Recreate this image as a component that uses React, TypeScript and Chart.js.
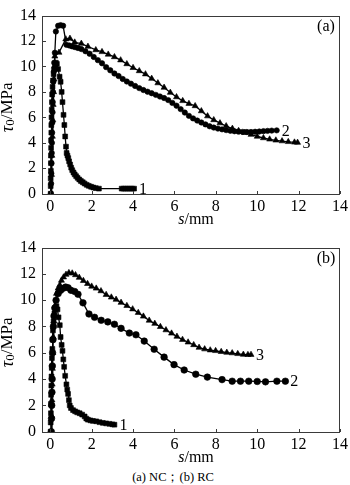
import React, { useEffect, useRef } from 'react';
import { Chart, registerables } from 'chart.js';
Chart.register(...registerables);

type P = [number, number];

const xTickValues = [0, 2, 4, 6, 8, 10, 12, 14];
const yTickValues = [0, 2, 4, 6, 8, 10, 12, 14];
const seriesNames = ['1', '2', '3'];
const panelNames = ['(a)', '(b)'];
const caption = '(a) NC；(b) RC';

// (a) NC — curve 1 (squares)
const nc1: P[] = [
  [0.02, 0], [0.02, 0.6], [0.02, 1.2], [0.03, 1.8], [0.03, 2.4], [0.03, 3.0], [0.04, 3.6], [0.04, 4.2],
  [0.05, 4.8], [0.05, 5.4], [0.06, 6.0], [0.07, 6.6], [0.08, 7.2], [0.09, 7.8], [0.11, 8.4], [0.13, 8.9],
  [0.16, 9.4], [0.19, 9.8], [0.23, 10.1], [0.27, 10.3], [0.32, 10.2], [0.38, 9.8], [0.45, 9.2], [0.5, 8.8],
  [0.55, 8.0], [0.59, 7.2], [0.64, 6.2], [0.68, 5.4], [0.72, 4.5], [0.76, 3.7], [0.79, 3.2], [0.83, 3.0],
  [0.87, 2.8], [0.91, 2.55], [0.96, 2.3], [1.01, 2.05], [1.06, 1.85], [1.12, 1.67], [1.18, 1.52], [1.25, 1.38],
  [1.32, 1.25], [1.4, 1.12], [1.48, 1.0], [1.57, 0.9], [1.66, 0.8], [1.76, 0.7], [1.86, 0.62], [1.97, 0.55],
  [2.08, 0.49], [2.2, 0.44], [2.35, 0.4], [3.45, 0.4], [3.55, 0.4], [3.65, 0.4], [3.75, 0.4], [3.85, 0.4],
  [3.95, 0.4], [4.05, 0.4],
];
// (a) NC — curve 2 (circles)
const nc2: P[] = [
  [0.03, 0], [0.04, 0.8], [0.05, 1.6], [0.06, 2.4], [0.07, 3.2], [0.08, 4.0], [0.09, 4.8], [0.1, 5.6],
  [0.11, 6.4], [0.12, 7.2], [0.13, 8.0], [0.15, 8.8], [0.17, 9.6], [0.19, 10.3], [0.22, 11.08], [0.27, 12.75],
  [0.38, 13.2], [0.5, 13.25], [0.62, 13.2], [0.78, 11.7], [0.92, 11.65], [1.06, 11.58], [1.2, 11.52],
  [1.34, 11.45], [1.5, 11.37], [1.7, 11.2], [1.9, 11.0], [2.1, 10.75], [2.3, 10.5], [2.5, 10.25],
  [2.7, 9.95], [2.9, 9.7], [3.1, 9.45], [3.3, 9.25], [3.5, 9.02], [3.7, 8.82], [3.9, 8.65], [4.1, 8.47],
  [4.3, 8.3], [4.5, 8.15], [4.7, 8.02], [4.9, 7.9], [5.1, 7.77], [5.3, 7.64], [5.5, 7.52], [5.7, 7.36],
  [5.9, 7.14], [6.1, 6.92], [6.3, 6.65], [6.5, 6.38], [6.7, 6.12], [6.9, 5.92], [7.1, 5.75], [7.3, 5.6],
  [7.5, 5.45], [7.7, 5.3], [7.9, 5.2], [8.1, 5.12], [8.3, 5.06], [8.5, 5.0], [8.7, 4.95], [8.9, 4.91],
  [9.1, 4.88], [9.3, 4.86], [9.5, 4.85], [9.7, 4.85], [9.9, 4.87], [10.1, 4.89], [10.3, 4.92],
  [10.5, 4.94], [10.7, 4.96], [10.94, 4.98],
];
// (a) NC — curve 3 (triangles)
const nc3: P[] = [
  [0.04, 0], [0.06, 1.5], [0.08, 3.0], [0.1, 4.5], [0.12, 5.8], [0.14, 7.0], [0.16, 8.0], [0.18, 9.0],
  [0.2, 10.0], [0.22, 10.8], [0.42, 11.1], [0.75, 12.15], [0.95, 12.2], [1.18, 11.9], [1.5, 11.8],
  [1.82, 11.57], [2.2, 11.3], [2.5, 11.15], [2.8, 10.95], [3.1, 10.75], [3.4, 10.5], [3.7, 10.2],
  [4.0, 9.9], [4.3, 9.65], [4.6, 9.4], [4.9, 9.05], [5.2, 8.7], [5.5, 8.35], [5.8, 7.95], [6.1, 7.6],
  [6.4, 7.3], [6.7, 7.08], [7.0, 6.9], [7.3, 6.5], [7.6, 6.1], [7.9, 5.8], [8.2, 5.55], [8.5, 5.32],
  [8.8, 5.12], [9.1, 4.95], [9.4, 4.8], [9.7, 4.65], [10.0, 4.5], [10.3, 4.38], [10.6, 4.28],
  [10.9, 4.2], [11.2, 4.14], [11.5, 4.08], [11.8, 4.04], [11.95, 4.02],
];

// (b) RC — curve 1 (squares)
const rc1: P[] = [
  [0.02, 0], [0.02, 0.7], [0.03, 1.4], [0.03, 2.1], [0.04, 2.8], [0.05, 3.5], [0.06, 4.2], [0.07, 4.9],
  [0.08, 5.6], [0.1, 6.3], [0.11, 7.0], [0.13, 7.7], [0.16, 8.4], [0.2, 9.0], [0.25, 9.4], [0.3, 9.55],
  [0.35, 9.3], [0.4, 8.7], [0.46, 8.1], [0.5, 7.2], [0.55, 6.6], [0.59, 6.15], [0.63, 5.5], [0.67, 4.93],
  [0.72, 4.25], [0.78, 3.6], [0.82, 3.2], [0.86, 2.87], [0.9, 2.4], [0.94, 2.0], [1.0, 1.8], [1.1, 1.64],
  [1.2, 1.55], [1.3, 1.47], [1.42, 1.4], [1.54, 1.3], [1.66, 1.16], [1.74, 1.0], [1.82, 0.91],
  [1.94, 0.86], [2.06, 0.82], [2.22, 0.79], [2.38, 0.72], [2.54, 0.67], [2.7, 0.63], [2.86, 0.6],
  [3.0, 0.56], [3.1, 0.53],
];
// (b) RC — curve 2 (circles)
const rc2: P[] = [
  [0.05, 0], [0.06, 1.0], [0.07, 2.0], [0.08, 3.0], [0.09, 4.0], [0.1, 5.0], [0.11, 6.0], [0.13, 7.0],
  [0.15, 8.0], [0.18, 8.8], [0.22, 9.4], [0.28, 10.0], [0.38, 10.5], [0.5, 10.75], [0.62, 10.9],
  [0.74, 11.0], [0.86, 10.95], [1.0, 10.75], [1.18, 10.66], [1.34, 10.45], [1.58, 9.8], [1.87, 8.95],
  [2.14, 8.7], [2.46, 8.47], [2.78, 8.35], [3.1, 8.17], [3.42, 7.86], [3.82, 7.5], [4.14, 7.37],
  [4.54, 6.89], [5.02, 6.27], [5.5, 5.67], [5.98, 5.1], [6.47, 4.69], [7.03, 4.37], [7.59, 4.15],
  [8.3, 3.96], [8.79, 3.84], [9.19, 3.84], [9.59, 3.84], [10.0, 3.82], [10.4, 3.79], [10.95, 3.84],
  [11.36, 3.84],
];
// (b) RC — curve 3 (triangles)
const rc3: P[] = [
  [0.06, 0], [0.07, 1.2], [0.08, 2.4], [0.09, 3.6], [0.1, 4.8], [0.12, 6.0], [0.14, 7.2], [0.17, 8.4],
  [0.22, 9.56], [0.3, 10.5], [0.38, 10.9], [0.46, 11.15], [0.54, 11.5], [0.64, 11.75], [0.76, 11.95],
  [0.9, 12.08], [1.06, 12.05], [1.22, 11.92], [1.4, 11.72], [1.6, 11.48], [1.8, 11.25], [2.0, 11.05],
  [2.22, 10.9], [2.45, 10.7], [2.7, 10.42], [2.95, 10.22], [3.18, 10.05], [3.42, 9.82], [3.7, 9.58],
  [3.98, 9.32], [4.25, 9.05], [4.5, 8.77], [4.78, 8.46], [5.05, 8.22], [5.32, 7.98], [5.59, 7.73],
  [5.86, 7.48], [6.12, 7.24], [6.39, 7.0], [6.66, 6.8], [6.93, 6.6], [7.19, 6.4], [7.46, 6.28],
  [7.73, 6.2], [7.99, 6.15], [8.26, 6.08], [8.53, 6.02], [8.79, 5.98], [9.06, 5.92], [9.33, 5.87],
  [9.55, 5.85], [9.7, 5.86],
];

const FONT = '"Liberation Serif", "Times New Roman", serif';

function drawParts(ctx: CanvasRenderingContext2D, parts: { t: string; f: string; dy: number }[], cx: number, cy: number) {
  let total = 0;
  parts.forEach((p) => { ctx.font = p.f; total += ctx.measureText(p.t).width; });
  let x = cx - total / 2;
  ctx.textAlign = 'left';
  ctx.textBaseline = 'middle';
  parts.forEach((p) => { ctx.font = p.f; ctx.fillText(p.t, x, cy + p.dy); x += ctx.measureText(p.t).width; });
}

function makeDecor(panel: string, series: P[][]) {
  return {
    id: 'decor',
    afterDraw(chart: any) {
      const { ctx, chartArea: ca, scales } = chart;
      const xs = scales.x, ys = scales.y;
      ctx.save();
      ctx.strokeStyle = '#3a3a3a';
      ctx.lineWidth = 1;
      ctx.strokeRect(Math.round(ca.left) + 0.5, Math.round(ca.top) + 0.5, Math.round(ca.right - ca.left) - 1, Math.round(ca.bottom - ca.top) - 1);
      ctx.beginPath();
      xTickValues.forEach((v) => {
        const p = Math.round(xs.getPixelForValue(v)) + 0.5;
        ctx.moveTo(p, ca.bottom - 1); ctx.lineTo(p, ca.bottom - 4);
      });
      yTickValues.forEach((v) => {
        const p = Math.round(ys.getPixelForValue(v)) + 0.5;
        ctx.moveTo(ca.left + 1, p); ctx.lineTo(ca.left + 4, p);
      });
      ctx.stroke();
      ctx.fillStyle = '#000';
      ctx.font = `16px ${FONT}`;
      ctx.textAlign = 'center';
      ctx.textBaseline = 'middle';
      ctx.fillText(panel, ca.right - 14, ca.top + 11);
      ctx.textAlign = 'left';
      series.forEach((s, i) => {
        const last = s[s.length - 1];
        ctx.fillText(seriesNames[i], xs.getPixelForValue(last[0]) + 5, ys.getPixelForValue(last[1]) + 1);
      });
      drawParts(ctx, [
        { t: 's', f: `italic 16px ${FONT}`, dy: 0 },
        { t: '/mm', f: `16px ${FONT}`, dy: 0 },
      ], (ca.left + ca.right) / 2 + 5, ca.bottom + 25);
      ctx.translate(8, (ca.top + ca.bottom) / 2 + 2);
      ctx.rotate(-Math.PI / 2);
      drawParts(ctx, [
        { t: 'τ', f: `italic 18px ${FONT}`, dy: 0 },
        { t: '0', f: `13px ${FONT}`, dy: 3 },
        { t: '/MPa', f: `17px ${FONT}`, dy: 0 },
      ], 0, 0);
      ctx.restore();
    },
  };
}

function ds(data: P[], style: string, r: number) {
  return {
    data: data.map(([x, y]) => ({ x, y })),
    showLine: true,
    borderColor: '#000',
    borderWidth: 1.3,
    pointStyle: style,
    pointRadius: r,
    pointBackgroundColor: '#000',
    pointBorderColor: '#000',
    pointBorderWidth: 0.6,
    tension: 0,
  };
}

function Panel({ series, panel, top, height, pad, axisH, radii }: { series: P[][]; panel: string; top: number; height: number; pad: number; axisH: number; radii: number[] }) {
  const ref = useRef<HTMLCanvasElement>(null);
  useEffect(() => {
    const chart = new Chart(ref.current!, {
      type: 'scatter',
      data: {
        datasets: [ds(series[0], 'rect', radii[0]), ds(series[1], 'circle', radii[1]), ds(series[2], 'triangle', radii[2])],
      },
      options: {
        responsive: false,
        animation: false,
        devicePixelRatio: 1,
        layout: { padding: { top: pad, right: 8, left: 0, bottom: 0 } },
        plugins: { legend: { display: false }, tooltip: { enabled: false } },
        scales: {
          x: {
            type: 'linear', min: -0.4, max: 14,
            afterBuildTicks: (s: any) => { s.ticks = xTickValues.map((v) => ({ value: v })); },
            afterFit: (s: any) => { s.height = axisH; },
            grid: { display: false, drawTicks: false },
            border: { display: false },
            ticks: { font: { family: FONT, size: 16 }, color: '#000', padding: 2, maxRotation: 0 },
          },
          y: {
            type: 'linear', min: -0.1, max: 14,
            afterBuildTicks: (s: any) => { s.ticks = yTickValues.map((v) => ({ value: v })); },
            afterFit: (s: any) => { s.width = 42; },
            grid: { display: false, drawTicks: false },
            border: { display: false },
            ticks: { font: { family: FONT, size: 16 }, color: '#000', padding: 6 },
          },
        },
      },
      plugins: [makeDecor(panel, series)],
    } as any);
    return () => chart.destroy();
  }, []);
  return (
    <canvas ref={ref} width={350} height={height} style={{ position: 'absolute', left: 0, top, width: 350, height }} />
  );
}

export default function App() {
  return (
    <div style={{ position: 'absolute', left: 0, top: 0, width: 350, height: 485, background: '#fff' }}>
      <Panel series={[nc1, nc2, nc3]} panel={panelNames[0]} top={0} height={232} pad={4} axisH={37} radii={[3.4, 2.7, 3.5]} />
      <Panel series={[rc1, rc2, rc3]} panel={panelNames[1]} top={232} height={235} pad={9} axisH={34} radii={[3.4, 3.3, 3.5]} />
      <div style={{ position: 'absolute', left: 0, width: 346, top: 470, height: 14, lineHeight: '14px', textAlign: 'center', fontFamily: FONT, fontSize: 12.5, color: '#000' }}>
        {caption}
      </div>
    </div>
  );
}
